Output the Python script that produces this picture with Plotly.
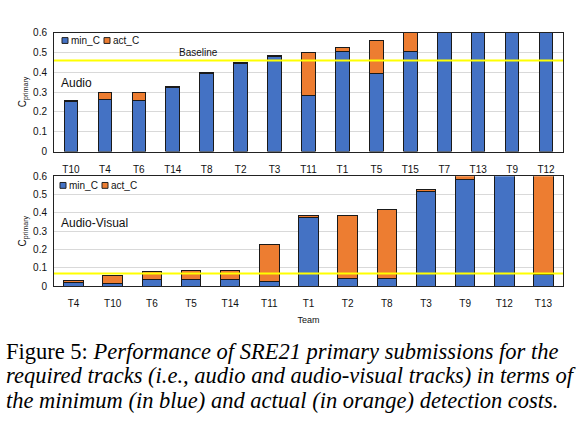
import plotly.graph_objects as go

# ---- data ----
audio_teams = ["T10", "T4", "T6", "T14", "T8", "T2", "T3", "T11", "T1", "T5", "T15", "T7", "T13", "T9", "T12"]
audio_min = [0.254, 0.260, 0.258, 0.324, 0.394, 0.444, 0.477, 0.283, 0.502, 0.396, 0.503, 0.70, 0.75, 0.80, 0.85]
audio_act = [0.258, 0.297, 0.297, 0.327, 0.399, 0.449, 0.482, 0.498, 0.526, 0.560, 0.65, 0.71, 0.76, 0.81, 0.86]

av_teams = ["T4", "T10", "T6", "T5", "T14", "T11", "T1", "T2", "T8", "T3", "T9", "T12", "T13"]
av_min = [0.021, 0.014, 0.035, 0.039, 0.037, 0.028, 0.376, 0.040, 0.040, 0.515, 0.582, 0.70, 0.065]
av_act = [0.032, 0.060, 0.083, 0.085, 0.088, 0.229, 0.384, 0.386, 0.418, 0.527, 0.65, 0.71, 0.80]

audio_baseline = 0.459
av_baseline = 0.070

yticks = [0, 0.1, 0.2, 0.3, 0.4, 0.5, 0.6]
ytick_text = ["0", "0.1", "0.2", "0.3", "0.4", "0.5", "0.6"]

series_names = ["min_C", "act_C"]

caption_lines = [
    "Figure 5: <i>Performance of SRE21 primary submissions for the</i>",
    "<i>required tracks (i.e., audio and audio-visual tracks) in terms of</i>",
    "<i>the minimum (in blue) and actual (in orange) detection costs.</i>",
]

BLUE = "#4472C4"
ORANGE = "#ED7D31"
COLORS = [BLUE, ORANGE]
W, H = 587, 434
FONT = "Liberation Sans"


def py(p):  # pixel row -> paper y
    return 1 - p / H


def px(p):
    return p / W


fig = go.Figure()
line = dict(color="#1a1a1a", width=1)

fig.add_trace(go.Bar(x=audio_teams, y=audio_min, name=series_names[0], marker=dict(color=BLUE, line=line),
                     xaxis="x", yaxis="y", width=0.4))
fig.add_trace(go.Bar(x=audio_teams, y=[a - m for a, m in zip(audio_act, audio_min)], name=series_names[1],
                     marker=dict(color=ORANGE, line=line), xaxis="x", yaxis="y", width=0.4))
fig.add_trace(go.Bar(x=av_teams, y=av_min, name=series_names[0], marker=dict(color=BLUE, line=line),
                     xaxis="x2", yaxis="y2", width=0.5))
fig.add_trace(go.Bar(x=av_teams, y=[a - m for a, m in zip(av_act, av_min)], name=series_names[1],
                     marker=dict(color=ORANGE, line=line), xaxis="x2", yaxis="y2", width=0.5))

xdom = [px(54), px(563)]
axis_common = dict(showline=True, linecolor="#222", linewidth=1, mirror=True, ticks="",
                   tickfont=dict(family=FONT, size=10, color="#111"))
yaxis_common = dict(axis_common, range=[0, 0.6], tickvals=yticks, ticktext=ytick_text,
                    showgrid=True, gridcolor="#d9d9d9", gridwidth=1, zeroline=False, ticklabelstandoff=4,
                    title=dict(text="C<sub>primary</sub>", font=dict(family=FONT, size=10, color="#111"), standoff=4))

shapes = [
    dict(type="line", xref="x domain", yref="y", x0=0, x1=1, y0=audio_baseline, y1=audio_baseline,
         line=dict(color="#FFFF00", width=2)),
    dict(type="line", xref="x2 domain", yref="y2", x0=0, x1=1, y0=av_baseline, y1=av_baseline,
         line=dict(color="#FFFF00", width=2)),
]
annotations = [
    dict(text="Baseline", xref="paper", yref="y", x=px(198), y=audio_baseline, yanchor="bottom", yshift=1,
         xanchor="center", showarrow=False, font=dict(family=FONT, size=10, color="#111")),
    dict(text="Audio", xref="paper", yref="paper", x=px(59), y=py(79), xanchor="left", yanchor="middle",
         showarrow=False, font=dict(family=FONT, size=12, color="#111")),
    dict(text="Audio-Visual", xref="paper", yref="paper", x=px(59), y=py(223), xanchor="left",
         yanchor="middle", showarrow=False, font=dict(family=FONT, size=12, color="#111")),
]

# custom legends (one per panel)
for (sx, cy) in [((62, 104), 35.5), ((60, 102), 184.5)]:
    for i, name in enumerate(series_names):
        x0 = sx[i]
        shapes.append(dict(type="rect", xref="paper", yref="paper", x0=px(x0), x1=px(x0 + 6),
                           y0=py(cy + 3), y1=py(cy - 3), fillcolor=COLORS[i], line=dict(color="#222", width=1)))
        annotations.append(dict(text=name, xref="paper", yref="paper", x=px(x0 + 7), y=py(cy), xanchor="left",
                                yanchor="middle", showarrow=False, font=dict(family=FONT, size=10, color="#111")))

annotations += [
    dict(text=t, xref="paper", yref="paper", x=px(4), y=py(355 + 25.5 * i), xanchor="left", yanchor="middle",
         showarrow=False, font=dict(family="Liberation Serif", size=22.5, color="#000"))
    for i, t in enumerate(caption_lines)
]

fig.update_layout(
    width=W, height=H,
    margin=dict(l=0, r=0, t=0, b=0),
    paper_bgcolor="white", plot_bgcolor="white",
    barmode="stack", showlegend=False,
    xaxis=dict(axis_common, domain=xdom, anchor="y", showgrid=False, ticklabelstandoff=8),
    yaxis=dict(yaxis_common, domain=[py(149.7), py(27.3)], anchor="x"),
    xaxis2=dict(axis_common, domain=xdom, anchor="y2", showgrid=False, ticklabelstandoff=8,
                title=dict(text="Team", font=dict(family=FONT, size=9, color="#111"), standoff=8)),
    yaxis2=dict(yaxis_common, domain=[py(288.3), py(175)], anchor="x2"),
    shapes=shapes,
    annotations=annotations,
)

fig.write_html("out.html")
